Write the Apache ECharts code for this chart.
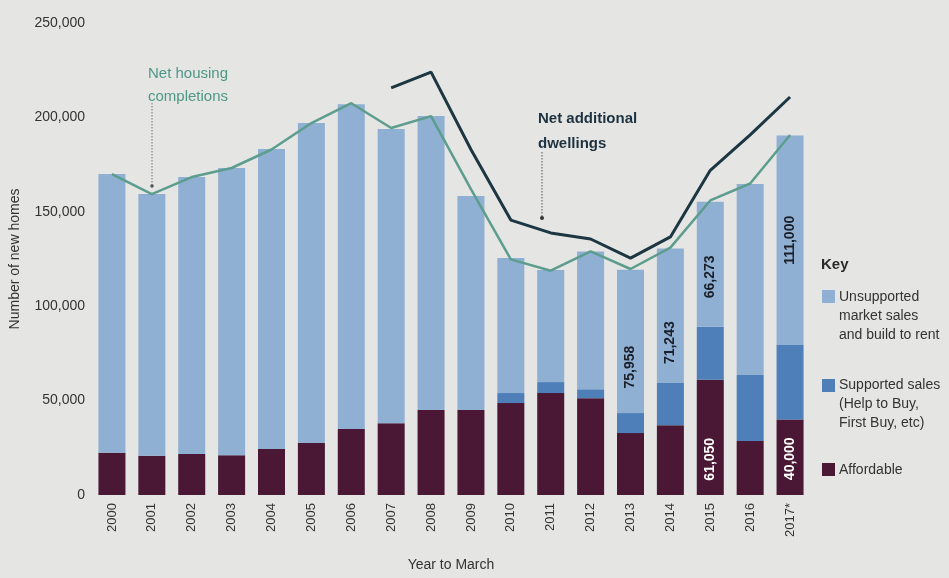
<!DOCTYPE html>
<html>
<head>
<meta charset="utf-8">
<script src="https://cdn.jsdelivr.net/npm/echarts@6/dist/echarts.min.js"></script>
<style>
html,body{margin:0;padding:0;background:#e5e5e4;}
#chart{width:949px;height:578px;}
</style>
</head>
<body>
<div id="chart"></div>
<script>
const years = ['2000','2001','2002','2003','2004','2005','2006','2007','2008','2009','2010','2011','2012','2013','2014','2015','2016','2017*'];
const affordable = [22400,20800,21700,21000,24300,27500,34900,38000,45000,45000,48700,54000,51300,32800,37000,61050,28600,40000];
const supported = [0,0,0,0,0,0,0,0,0,0,5300,5800,4700,10600,22300,28000,35000,39400];
const unsupported = [147600,138600,146700,152200,159000,169500,172100,155900,155700,113400,71500,59400,73000,75958,71243,66273,101100,111000];
const completions = [170000,159400,168400,173200,183000,197000,207500,194400,200700,162000,124800,118800,129000,119700,131000,156000,165000,190700];
const dwellings = [null,null,null,null,null,null,null,215600,224000,183000,145600,138800,135600,125500,136700,172000,190700,210800];
const yTicks = [0,50000,100000,150000,200000,250000];
const labelledUnsupported = {'2013':'68%','2014':'70%','2015':'60%','2017*':'50%'};
const labelledAffordable = {'2015':'69%','2017*':'52%'};

const fmt = v => Number(v).toLocaleString('en-US');
const FONT = 'Liberation Sans, Arial, sans-serif';

const chart = echarts.init(document.getElementById('chart'));

function withLabels(values, map, color) {
  return values.map((v, i) => {
    const pos = map[years[i]];
    if (!pos) return v;
    return {
      value: v,
      label: {
        show: true, position: ['50%', pos], rotate: 90,
        align: 'center', verticalAlign: 'middle',
        formatter: p => fmt(p.value),
        color: color, fontSize: 14, fontWeight: 'bold', fontFamily: FONT
      }
    };
  });
}

const option = {
  backgroundColor: '#e5e5e4',
  animation: false,
  grid: {left: 92, right: 139, top: 23, bottom: 83, containLabel: false, outerBoundsMode: 'none'},
  xAxis: {
    type: 'category', data: years,
    axisLine: {show: false}, axisTick: {show: false},
    axisLabel: {rotate: 90, margin: 8, fontSize: 13, color: '#333333', fontFamily: FONT},
    name: 'Year to March', nameLocation: 'middle', nameGap: 63,
    nameTextStyle: {fontSize: 14, color: '#333333', fontFamily: FONT}
  },
  yAxis: {
    type: 'value', min: yTicks[0], max: yTicks[yTicks.length-1], interval: yTicks[1]-yTicks[0],
    splitLine: {show: false}, axisLine: {show: false}, axisTick: {show: false},
    axisLabel: {formatter: v => fmt(v), fontSize: 14, color: '#333333', margin: 7, fontFamily: FONT},
    name: 'Number of new homes', nameLocation: 'middle', nameGap: 70,
    nameTextStyle: {fontSize: 14, color: '#333333', fontFamily: FONT}
  },
  series: [
    {name: 'Affordable', type: 'bar', stack: 'homes', barWidth: 27,
     itemStyle: {color: '#4a1734'}, data: withLabels(affordable, labelledAffordable, '#ffffff')},
    {name: 'Supported sales', type: 'bar', stack: 'homes', barWidth: 27,
     itemStyle: {color: '#4e7fb9'}, data: supported},
    {name: 'Unsupported market sales', type: 'bar', stack: 'homes', barWidth: 27,
     itemStyle: {color: '#8fb0d3'}, data: withLabels(unsupported, labelledUnsupported, '#1b1f2a')},
    {name: 'Net housing completions', type: 'line', data: completions, symbol: 'none',
     lineStyle: {color: '#5c9d8e', width: 2.5}, z: 5},
    {name: 'Net additional dwellings', type: 'line', data: dwellings, symbol: 'none', connectNulls: false,
     lineStyle: {color: '#1d3742', width: 3}, z: 6}
  ],
  graphic: [
    {type: 'text', left: 148, top: 62, style: {text: 'Net housing\ncompletions', fill: '#4e9886', font: '15px ' + FONT, lineHeight: 23}},
    {type: 'line', shape: {x1: 152, y1: 103, x2: 152, y2: 185}, style: {stroke: '#777', lineWidth: 1, lineDash: [1.5, 1.5]}},
    {type: 'circle', shape: {cx: 152, cy: 186, r: 1.8}, style: {fill: '#555'}},
    {type: 'text', left: 538, top: 106, style: {text: 'Net additional\ndwellings', fill: '#1d3240', font: 'bold 15px ' + FONT, lineHeight: 25}},
    {type: 'line', shape: {x1: 542, y1: 152, x2: 542, y2: 217}, style: {stroke: '#555', lineWidth: 1, lineDash: [1.5, 1.5]}},
    {type: 'circle', shape: {cx: 542, cy: 218, r: 2}, style: {fill: '#333'}},
    {type: 'text', left: 821, top: 257, style: {text: 'Key', fill: '#2a2a2a', font: 'bold 15px ' + FONT}},
    {type: 'rect', shape: {x: 822, y: 290, width: 13, height: 13}, style: {fill: '#8fb0d3'}},
    {type: 'text', left: 839, top: 288, style: {text: 'Unsupported\nmarket sales\nand build to rent', fill: '#333333', font: '14px ' + FONT, lineHeight: 19}},
    {type: 'rect', shape: {x: 822, y: 379, width: 13, height: 13}, style: {fill: '#4e7fb9'}},
    {type: 'text', left: 839, top: 376, style: {text: 'Supported sales\n(Help to Buy,\nFirst Buy, etc)', fill: '#333333', font: '14px ' + FONT, lineHeight: 19}},
    {type: 'rect', shape: {x: 822, y: 463, width: 13, height: 13}, style: {fill: '#4a1734'}},
    {type: 'text', left: 839, top: 461, style: {text: 'Affordable', fill: '#333333', font: '14px ' + FONT, lineHeight: 19}}
  ]
};
chart.setOption(option);
</script>
</body>
</html>
